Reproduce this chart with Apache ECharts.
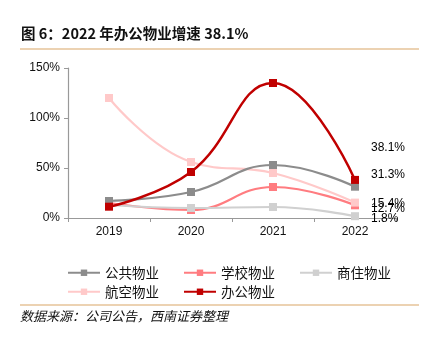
<!DOCTYPE html>
<html><head><meta charset="utf-8">
<script src="https://cdn.jsdelivr.net/npm/echarts@6/dist/echarts.min.js"></script>
<style>html,body{margin:0;padding:0;background:#fff}#c{width:429px;height:342px}</style>
</head><body><div id="c"></div>
<script>
const categories = ['2019','2020','2021','2022'];
const names = ['公共物业','学校物业','商住物业','航空物业','办公物业'];
const gongGong = [17, 26, 53, 31.3];
const xueXiao = [15, 8, 31, 12.7];
const shangZhu = [13, 10, 11, 1.8];
const hangKong = [120, 56, 45, 15.4];
const banGong = [11.3, 46, 135, 38.1];
const yTicks = [0, 50, 100, 150];

const colors = ['#8C8C8C','#FF7C80','#D0D0D0','#FFC9C9','#C00000'];
const labelOffsets = [[0,-12],[0,3],[0,2],[0,1],[0,-32]];
const allData = [gongGong, xueXiao, shangZhu, hangKong, banGong];

const series = names.map((n,i)=>({
  name:n, type:'line', smooth:0.45, symbol:'rect', symbolSize:8,
  lineStyle:{width: i===4?2.5:2.2, color:colors[i]},
  itemStyle:{color:colors[i]},
  z: i===4?10:(i===0?6:5),
  data: allData[i].map((v,j)=> j===allData[i].length-1 ? {value:v, label:{show:true, position:'right', distance:12, offset:labelOffsets[i], formatter:v.toFixed(1)+'%', color:'#000', fontSize:12, fontFamily:'Liberation Sans'}} : v)
}));

const chart = echarts.init(document.getElementById('c'));
chart.setOption({
  animation:false,
  graphic:[
    {type:'text', left:21, top:26, style:{text:'图 6：2022 年办公物业增速 38.1%', font:'bold 14.5px "Noto Sans CJK SC"', fill:'#111'}},
    {type:'line', shape:{x1:20,y1:49,x2:419,y2:49}, style:{stroke:'#D9A566', lineWidth:1.2}},
    {type:'line', shape:{x1:20,y1:305,x2:419,y2:305}, style:{stroke:'#D9A566', lineWidth:1.2}},
    {type:'text', left:20, top:310, style:{text:'数据来源：公司公告，西南证券整理', font:'italic 13px "Noto Sans CJK SC"', fill:'#111'}}
  ],
  grid:{left:68, right:33, top:68, bottom:124},
  xAxis:{type:'category', data:categories, boundaryGap:true,
    axisLine:{lineStyle:{color:'#999', width:1.2}},
    axisTick:{show:true, interval:0, length:4, lineStyle:{color:'#999'}},
    axisLabel:{color:'#111', fontSize:12, fontFamily:'Liberation Sans', margin:8}},
  yAxis:{type:'value', min:0, max:150, interval:50,
    axisLine:{show:true, lineStyle:{color:'#999', width:1.2}},
    axisTick:{show:true, length:4, inside:false, lineStyle:{color:'#999'}},
    splitLine:{show:false},
    axisLabel:{color:'#111', fontSize:12, fontFamily:'Liberation Sans', margin:8, formatter:v=>yTicks.includes(v)?v+'%':''}},
  legend:[
    {data:names.slice(0,3), left:62, top:261, itemWidth:32, itemHeight:8, itemGap:24,
     textStyle:{fontSize:13.5, fontFamily:'Noto Sans CJK SC', color:'#111'}},
    {data:names.slice(3), left:62, top:280, itemWidth:32, itemHeight:8, itemGap:24,
     textStyle:{fontSize:13.5, fontFamily:'Noto Sans CJK SC', color:'#111'}}
  ],
  series: series
});
</script></body></html>
